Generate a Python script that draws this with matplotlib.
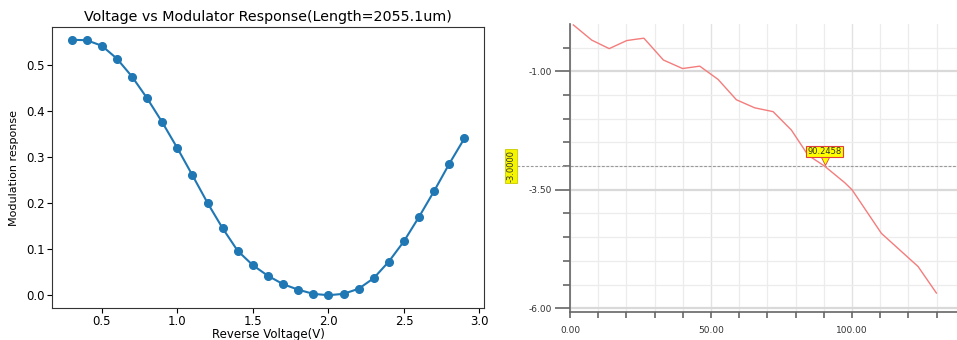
# Voltage vs modulator response + trace screenshot (right)
import matplotlib
matplotlib.use("Agg")
import matplotlib.pyplot as plt
from matplotlib.ticker import FixedLocator, MultipleLocator, FormatStrFormatter

# left panel data
voltage = [0.3, 0.4, 0.5, 0.6, 0.7, 0.8, 0.9, 1.0, 1.1, 1.2, 1.3, 1.4, 1.5, 1.6,
           1.7, 1.8, 1.9, 2.0, 2.1, 2.2, 2.3, 2.4, 2.5, 2.6, 2.7, 2.8, 2.9]
response = [0.554, 0.553, 0.541, 0.513, 0.474, 0.427, 0.375, 0.319, 0.260, 0.200,
            0.145, 0.096, 0.065, 0.042, 0.024, 0.012, 0.003, 0.000, 0.003, 0.014,
            0.037, 0.073, 0.117, 0.170, 0.226, 0.285, 0.340]

# right panel data (trace)
trace_x = [1.2, 7.7, 13.9, 20.1, 23.6, 26.2, 33.1, 39.9, 46.0, 52.5, 59.0, 65.5,
           72.0, 78.5, 84.4, 90.25, 97.4, 100.0, 110.4, 116.9, 123.4, 129.9]
trace_y = [-0.02, -0.34, -0.52, -0.35, -0.32, -0.30, -0.76, -0.94, -0.89, -1.17,
           -1.60, -1.77, -1.85, -2.24, -2.77, -3.00, -3.35, -3.50, -4.42, -4.77,
           -5.12, -5.68]
cursor_y = -3.0
cursor_x = 90.2458
major_y = [-1.0, -3.5, -6.0]
minor_y = [-0.5, -1.5, -2.0, -2.5, -3.0, -4.0, -4.5, -5.0, -5.5]

W, H = 957, 340
fig = plt.figure(figsize=(W / 100, H / 100), dpi=100)

# ---- left chart
ax = fig.add_axes([52 / W, (H - 308) / H, 432 / W, 281 / H])
ax.plot(voltage, response, color="#1f77b4", lw=1.5, marker="o", ms=5.5)
ax.set_title("Voltage vs Modulator Response(Length=2055.1um)", fontsize=10.3, pad=4)
ax.set_xlabel("Reverse Voltage(V)", fontsize=8.5, labelpad=0)
ax.set_ylabel("Modulation response", fontsize=8, labelpad=5)
ax.tick_params(labelsize=8.5, length=3.5, width=0.8, pad=1.5)
ax.set_xticks([0.5, 1.0, 1.5, 2.0, 2.5, 3.0])
ax.set_yticks([0.0, 0.1, 0.2, 0.3, 0.4, 0.5])
for s in ax.spines.values():
    s.set_linewidth(0.8)
    s.set_color("#333333")

# ---- right chart
nf = ["Liberation Sans Narrow", "DejaVu Sans"]
bx = fig.add_axes([570 / W, (H - 312) / H, 387 / W, 288 / H])
bx.set_xlim(0, 137.2)
bx.set_ylim(-6.08, 0)
for side in ("top", "right"):
    bx.spines[side].set_visible(False)
for side in ("left", "bottom"):
    bx.spines[side].set_color("#666666")
    bx.spines[side].set_linewidth(1.2)

bx.yaxis.set_major_locator(FixedLocator(major_y))
bx.yaxis.set_minor_locator(FixedLocator(minor_y))
bx.yaxis.set_major_formatter(FormatStrFormatter("%.2f"))
bx.xaxis.set_major_locator(MultipleLocator(50))
bx.xaxis.set_minor_locator(MultipleLocator(10))
bx.xaxis.set_major_formatter(FormatStrFormatter("%.2f"))
bx.tick_params(axis="y", which="major", length=11, width=1.2, color="#666666", pad=2)
bx.tick_params(axis="y", which="minor", length=5, width=1.2, color="#666666")
bx.tick_params(axis="x", which="both", length=4, width=1.2, color="#666666", pad=6)
for lab in bx.get_xticklabels() + bx.get_yticklabels():
    lab.set_fontfamily(nf)
    lab.set_fontsize(6.5)
    lab.set_color("#333333")

bx.grid(True, which="minor", color="#ececec", lw=0.9)
bx.grid(True, axis="y", which="major", color="#d9d9d9", lw=1.6)
bx.grid(True, axis="x", which="major", color="#e2e2e2", lw=1.0)
bx.set_axisbelow(True)

bx.plot(trace_x, trace_y, color="#f47c7c", lw=1.0, zorder=3)

# cursor line
bx.plot([-0.137, 1.0], [cursor_y, cursor_y], transform=bx.get_yaxis_transform(),
        color="#999999", lw=0.8, ls=(0, (2.5, 1.5)), clip_on=False, zorder=2)
fig.text(511 / W, 1 - 166 / H, "-3.0000", rotation=90, ha="center", va="center",
         fontsize=6, family=nf, color="#333333",
         bbox=dict(boxstyle="square,pad=0.15", fc="#f5f500", ec="#c8c800", lw=0.6))

# marker label
bx.plot([cursor_x], [-2.87], marker="v", ms=7, color="#ffff00", mec="#e04040",
        mew=0.6, zorder=4)
bx.text(cursor_x, -2.69, "90.2458", ha="center", va="center", fontsize=6,
        family=nf, color="#333333", zorder=5,
        bbox=dict(boxstyle="square,pad=0.15", fc="#ffff00", ec="#e04040", lw=0.8))

fig.savefig("out.png", dpi=100)
